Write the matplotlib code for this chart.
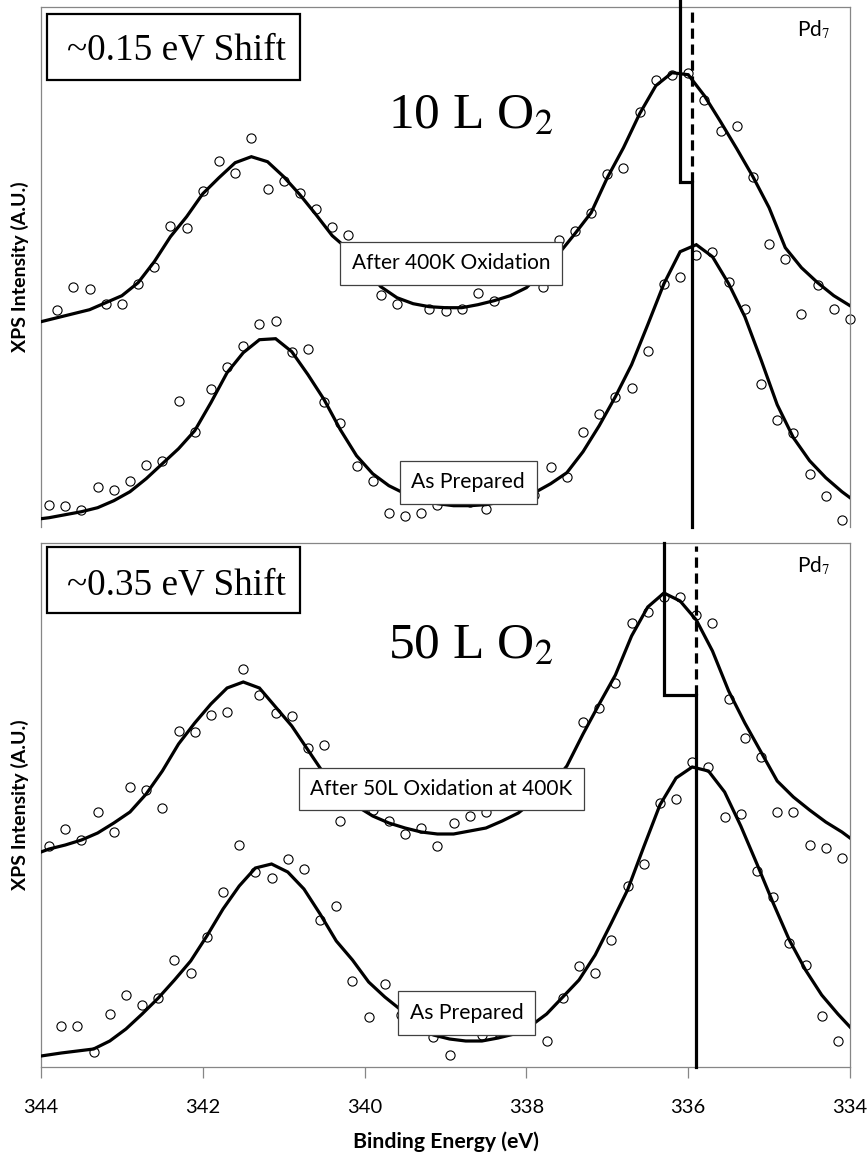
import numpy as np
import matplotlib
matplotlib.use("Agg")
import matplotlib.pyplot as plt
from matplotlib.patches import Rectangle

# ---------------- data (intensity in arbitrary units) ----------------
# Top panel (10 L O2)
E_top_ox = np.round(343.8 - 0.2 * np.arange(50), 2)
E_top_ap = np.round(343.9 - 0.2 * np.arange(50), 2)
data_top_ox = [217, 240, 238, 223, 223, 243, 260, 301, 299, 336,
               366, 354, 389, 338, 346, 334, 318, 300, 292, 265,
               232, 223, 252, 218, 216, 218, 234, 226, 249, 251,
               240, 287, 296, 314, 353, 359, 415, 447, 452, 454,
               427, 396, 401, 350, 283, 268, 213, 242, 218, 208]
fit_top_ox = [205,
              209, 213, 217, 224, 231, 244, 265, 290, 310, 333,
              349, 364, 370, 365, 350, 332, 312, 291, 277, 259,
              240, 229, 223, 220, 219, 219, 222, 226, 231, 239,
              255, 273, 293, 314, 349, 379, 413, 441, 454, 452,
              431, 405, 378, 350, 319, 279, 259, 244, 231, 221]
data_top_ap = [22, 21, 17, 40, 37, 46, 62, 66, 126, 95,
               138, 160, 181, 203, 206, 175, 178, 125, 104, 61,
               46, 14, 11, 14, 22, 29, 25, 18, 29, 32,
               32, 60, 50, 95, 113, 130, 139, 176, 243, 250,
               272, 275, 245, 218, 143, 107, 94, 53, 31, 7]
fit_top_ap = [8,
              9, 12, 15, 19, 26, 35, 48, 63, 78, 96,
              124, 154, 174, 187, 188, 175, 152, 127, 97, 71,
              53, 41, 33, 27, 23, 21, 21, 22, 25, 29,
              34, 43, 54, 75, 101, 130, 162, 202, 243, 275,
              282, 270, 243, 210, 167, 122, 89, 66, 49, 35,
              29]

# Bottom panel (50 L O2)
E_bot_ox = np.round(343.9 - 0.2 * np.arange(50), 2)
E_bot_ap = np.round(343.75 - 0.2 * np.arange(49), 2)
data_bot_ox = [221, 238, 227, 255, 235, 280, 277, 259, 336, 335,
               352, 355, 398, 372, 354, 351, 319, 322, 246, 272,
               257, 246, 233, 239, 221, 244, 251, 255, 272, 277,
               282, 287, 291, 345, 359, 384, 444, 455, 470, 470,
               452, 444, 368, 329, 310, 255, 255, 222, 219, 209]
fit_bot_ox = [215,
              218, 222, 227, 234, 244, 255, 273, 296, 323, 344,
              363, 379, 385, 379, 360, 341, 317, 293, 275, 261,
              251, 244, 239, 235, 233, 233, 236, 239, 246, 254,
              267, 281, 301, 333, 363, 392, 431, 460, 474, 466,
              447, 416, 376, 344, 315, 286, 270, 257, 245, 235,
              229]
data_bot_ap = [41, 41, 15, 53, 72, 62, 69, 107, 94, 130,
               175, 222, 195, 189, 208, 198, 147, 161, 86, 50,
               83, 52, 42, 30, 12, 39, 32, 35, 42, 47,
               26, 69, 101, 94, 127, 181, 203, 264, 268, 305,
               300, 250, 253, 196, 170, 124, 102, 51, 26]
fit_bot_ap = [11,
              14, 16, 18, 26, 38, 53, 69, 87, 106, 131,
              158, 181, 199, 203, 195, 178, 153, 126, 107, 85,
              70, 57, 43, 32, 28, 26, 26, 29, 33, 41,
              53, 70, 87, 112, 144, 177, 220, 262, 289, 300,
              296, 275, 241, 203, 164, 127, 97, 72, 53,
              40]

# peak-position markers: (oxidized peak, as-prepared peak, step level)
peak_top = (336.10, 335.95, 345)
peak_bot = (336.30, 335.90, 372)

x_ticks = [344, 342, 340, 338, 336, 334]
shift_labels = ["~0.15 eV Shift", "~0.35 eV Shift"]
dose_labels = ["10 L O$_2$", "50 L O$_2$"]
ox_labels = ["After 400K Oxidation", "After 50L Oxidation at 400K"]
ap_label = "As Prepared"

# ---------------- drawing ----------------
plt.rcParams['mathtext.fontset'] = 'stix'
SANS = ['Lato', 'DejaVu Sans']
SERIF = ['Liberation Serif', 'DejaVu Serif']
GRAY = '#868686'

fig = plt.figure(figsize=(8.68, 11.54), dpi=100)
ax_top = fig.add_axes([0.04724, 0.54359, 0.93203, 0.45060])
ax_bot = fig.add_axes([0.04724, 0.07539, 0.93203, 0.45433])

panels = [
    (ax_top, E_top_ox, data_top_ox, fit_top_ox, [344.0], [],
     E_top_ap, data_top_ap, fit_top_ap, [344.0], [334.0], peak_top, 520, 7,
     (338.93, 263.5), (338.72, 44.5), (0.986, 0.860), 0.899, 0.767),
    (ax_bot, E_bot_ox, data_bot_ox, fit_bot_ox, [344.0], [334.0],
     E_bot_ap, data_bot_ap, fit_bot_ap, [344.0], [334.0], peak_bot, 524.3, 0,
     (339.05, 278), (338.74, 54), (0.9912, 0.8665), 0.9016, 0.78),
]

lab_style = dict(boxstyle='square,pad=0.55', fc='white', ec='#404040', lw=0.9)

for i, (ax, Eo, do, fo, lo, ro, Ea, da, fa, la, ra, pk, ymax, ext,
        pos_ox, pos_ap, sbox, sbase, dbase) in enumerate(panels):
    Efo = np.concatenate([lo, Eo, ro])
    Efa = np.concatenate([la, Ea, ra])
    for E, d, Ef, f in [(Eo, do, Efo, fo), (Ea, da, Efa, fa)]:
        ax.plot(E, d, linestyle='none', marker='o', ms=6.6, mfc='none',
                mec='black', mew=0.8, zorder=2, clip_on=False)
        ax.plot(Ef, f, color='black', lw=2.3, zorder=3, solid_joinstyle='miter')
    e_ox, e_ref, lvl = pk
    ax.plot([e_ox, e_ox, e_ref, e_ref], [ymax + ext, lvl, lvl, 0], color='black',
            lw=2.3, zorder=4, solid_joinstyle='miter', clip_on=False)
    ax.plot([e_ref, e_ref], [lvl, ymax - 3], color='black', lw=2.3,
            linestyle=(0, (3.2, 1.8)), zorder=4)

    ax.set_xlim(344, 334)
    ax.set_ylim(0, ymax)
    ax.set_yticks([])
    for s in ['left', 'right', 'top', 'bottom']:
        ax.spines[s].set_color(GRAY)
        ax.spines[s].set_linewidth(0.9)

    # labels
    ax.text(pos_ox[0], pos_ox[1], ox_labels[i], ha='center', va='center',
            family=SANS, fontsize=15.0, zorder=6, bbox=lab_style)
    ax.text(pos_ap[0], pos_ap[1], ap_label, ha='center', va='center',
            family=SANS, fontsize=15.2, zorder=6, bbox=lab_style)
    ax.add_patch(Rectangle((0.0078, sbox[1]), 0.3124, sbox[0] - sbox[1],
                           transform=ax.transAxes, fc='white', ec='black',
                           lw=1.6, zorder=6))
    ax.text(0.168, sbase, shift_labels[i], transform=ax.transAxes,
            ha='center', va='baseline', family=SERIF, fontsize=26.8, zorder=7)
    ax.text(0.531, dbase, dose_labels[i], transform=ax.transAxes,
            ha='center', va='baseline', family=SERIF, fontsize=37, zorder=6)
    ax.text(0.934, 0.944, 'Pd$_7$', transform=ax.transAxes, ha='left',
            va='baseline', family=SANS, fontsize=15, zorder=6)
    ax.set_ylabel('XPS Intensity (A.U.)', family=SANS, fontsize=14,
                  fontweight='bold', labelpad=9)

ax_top.spines['bottom'].set_visible(False)
ax_top.set_xticks([])

ax_bot.set_xticks(x_ticks)
ax_bot.set_xticklabels([str(t) for t in x_ticks], family=SANS, fontsize=14.5)
ax_bot.tick_params(axis='x', direction='out', length=8, width=0.9,
                   color=GRAY, pad=15)
ax_bot.set_xlabel('Binding Energy (eV)', family=SANS, fontsize=15.3,
                  fontweight='bold', labelpad=11)

fig.savefig('out.png', dpi=100)
